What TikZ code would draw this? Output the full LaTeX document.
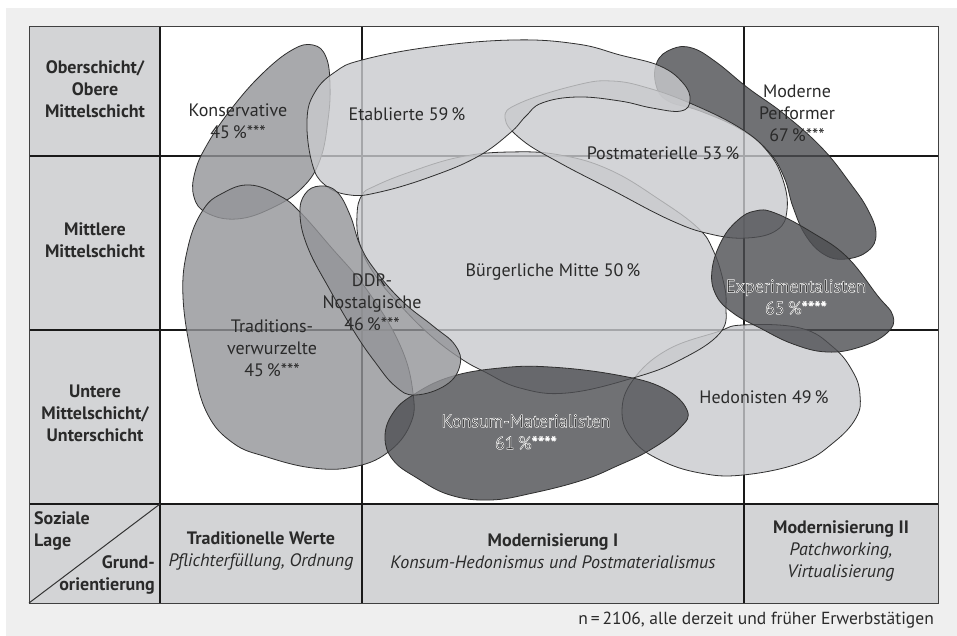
\documentclass[tikz,border=0pt]{standalone}
\usepackage{fontspec}
\setmainfont{PT Sans}
\definecolor{bggrau}{HTML}{EFEFEF}
\definecolor{zellgrau}{HTML}{D3D4D6}
\definecolor{hellfill}{HTML}{C9CACD}
\definecolor{mittelfill}{HTML}{939498}
\definecolor{dunkelfill}{HTML}{4D4E52}
\definecolor{randfarbe}{HTML}{2F2F2F}
\definecolor{txt}{HTML}{2A2A2A}
% weisser Rand um die Schrift
\def\halo#1{\special{pdf:literal direct 1 1 1 RG 2 Tr 0.5 w}#1\special{pdf:literal direct 0 Tr}}
\tikzset{
  milieu/.style={draw=randfarbe, line width=0.8pt, fill opacity=0.8},
  milieuhell/.style={milieu, fill=hellfill},
  milieumittel/.style={milieu, fill=mittelfill},
  milieudunkel/.style={milieu, fill=dunkelfill},
  gitter/.style={line width=1.4pt, draw=black!90},
  lbl/.style={font=\fontsize{18}{22}\selectfont, align=center, text=txt, inner sep=0pt},
  kopf/.style={lbl, font=\fontsize{18}{22}\selectfont\bfseries},
}

\begin{document}
\begin{tikzpicture}[x=1pt,y=-1pt]
	%%%%% START %%%%%
	\useasboundingbox (0,0) rectangle (957,636);
	\fill[white] (0,0) rectangle (957,636);
	\fill[bggrau] (6,8) rectangle (957,636);
	
	% Tabelle
	\fill[white] (160,27) rectangle (938,504);
	\fill[zellgrau] (29,27) rectangle (160,504);
	\fill[zellgrau] (29,504) rectangle (938,603);
	\draw[gitter] (160,27) -- (160,603);
	\draw[gitter] (362,27) -- (362,603);
	\draw[gitter] (744,27) -- (744,603);
	\draw[gitter] (29,156) -- (938,156);
	\draw[gitter] (29,330) -- (938,330);
	\draw[gitter] (29,504) -- (938,504);
	\draw[line width=1pt, draw=black!75] (29,27) rectangle (938,603);
	\draw[line width=1pt, draw=black!80] (29,603) -- (160,504);
	
	% Milieus
	\draw[milieumittel] plot[smooth cycle, tension=0.7] coordinates {(313,45) (326,57) (330,85) (328,120) (320,160) (302,188) (272,208) (237,219) (207,213) (194,197) (195,172) (208,143) (232,108) (262,74) (292,50)};
	\draw[milieudunkel] plot[smooth cycle, tension=0.7] coordinates {(657,62) (672,49) (692,48) (716,62) (748,88) (784,114) (822,148) (850,183) (868,210) (876,234) (868,251) (846,259) (825,255) (806,236) (793,207) (784,177) (768,151) (740,129) (700,111) (668,101) (656,85)};
	\draw[milieuhell] plot[smooth cycle, tension=0.7] coordinates {(622,412) (633,380) (667,350) (717,332) (743,325) (800,328) (833,347) (853,372) (860,395) (856,418) (833,443) (800,463) (743,475) (700,473) (660,460) (633,440)};
	\draw[milieuhell] plot[smooth cycle, tension=0.7] coordinates {(362,195) (357,215) (360,245) (375,275) (400,305) (430,335) (460,358) (485,372) (520,388) (567,393) (633,378) (680,360) (720,333) (726,305) (723,280) (713,250) (698,228) (660,200) (610,170) (560,155) (510,152) (460,157) (410,172) (375,186)};
	\draw[milieuhell] plot[smooth cycle, tension=0.7] coordinates {(505,118) (520,103) (577,85) (612,81) (648,88) (692,104) (740,128) (768,152) (783,180) (787,210) (777,230) (747,238) (710,234) (670,220) (612,190) (560,163) (522,140)};
	\draw[milieuhell] plot[smooth cycle, tension=0.7] coordinates {(307,120) (315,92) (335,72) (362,60) (430,47) (513,40) (577,44) (620,55) (660,66) (683,83) (690,100) (681,111) (652,108) (620,101) (577,97) (542,103) (526,116) (510,133) (477,157) (430,177) (380,192) (350,195) (325,185) (312,163)};
	\draw[milieudunkel] plot[smooth cycle, tension=0.7] coordinates {(712,270) (722,240) (738,220) (755,211) (775,213) (813,233) (847,257) (877,295) (893,316) (887,333) (860,347) (827,352) (793,344) (760,328) (733,313) (716,295)};
	\draw[milieumittel] plot[smooth cycle, tension=0.7] coordinates {(223,193) (250,185) (280,196) (300,212) (330,246) (367,290) (400,345) (413,393) (410,425) (387,453) (353,467) (313,468) (267,457) (233,443) (207,413) (193,363) (183,297) (188,247) (203,210)};
	\draw[milieudunkel] plot[smooth cycle, tension=0.7] coordinates {(385,437) (393,413) (413,395) (450,377) (500,368) (550,367) (617,375) (663,388) (687,410) (680,428) (650,450) (617,466) (583,480) (533,493) (490,500) (450,495) (417,478) (393,460)};
	\draw[milieumittel] plot[smooth cycle, tension=0.7] coordinates {(320,186) (337,192) (350,215) (360,245) (375,270) (402,301) (433,326) (455,345) (460,365) (446,385) (415,395) (395,386) (375,362) (355,333) (330,290) (308,248) (300,215) (305,194)};
	
	% Beschriftungen der Milieus
	\node[lbl] (kons) at (238,121) {Konservative\\45\,\%***};
	\node[lbl] (etab) at (407,114) {Etablierte 59\,\%};
	\node[lbl] (postm) at (663,153) {Postmaterielle 53\,\%};
	\node[lbl] (perf) at (797,113) {Moderne\\Performer\\67\,\%***};
	\node[lbl] (buerg) at (553,272) {Bürgerliche Mitte 50\,\%};
	\node[lbl] (ddr) at (372,302) {DDR-\\Nostalgische\\46\,\%***};
	\node[lbl] (trad) at (272,348) {Traditions-\\verwurzelte\\45\,\%***};
	\node[lbl] (exper) at (796,297) {\halo{Experimentalisten}\\\halo{65\,\%****}};
	\node[lbl] (konsum) at (526,432) {\halo{Konsum-Materialisten}\\\halo{61\,\%****}};
	\node[lbl] (hedo) at (764,397) {Hedonisten 49\,\%};
	
	% Kopfzeilen
	\node[kopf] (oben) at (95,89) {Oberschicht/\\Obere\\Mittelschicht};
	\node[kopf] (mitte) at (95,240) {Mittlere\\Mittelschicht};
	\node[kopf] (unten) at (95,413) {Untere\\Mittelschicht/\\Unterschicht};
	\node[kopf, align=left, anchor=west] (lage) at (34,531) {Soziale\\Lage};
	\node[kopf, align=right, anchor=east] (grund) at (155,575) {Grund-\\orientierung};
	\node[lbl] (tradw) at (261,551) {\textbf{Traditionelle Werte}\\\textit{Pflichterfüllung, Ordnung}};
	\node[lbl] (modI) at (553,551) {\textbf{Modernisierung I}\\\textit{Konsum-Hedonismus und Postmaterialismus}};
	\node[lbl] (modII) at (841,551) {\textbf{Modernisierung II}\\\textit{Patchworking,}\\\textit{Virtualisierung}};
	\node[lbl, anchor=east, font=\fontsize{17.5}{20}\selectfont] (anm) at (934,620) {n\,=\,2106, alle derzeit und früher Erwerbstätigen};
	%%%%% END %%%%%
\end{tikzpicture}
\end{document}
